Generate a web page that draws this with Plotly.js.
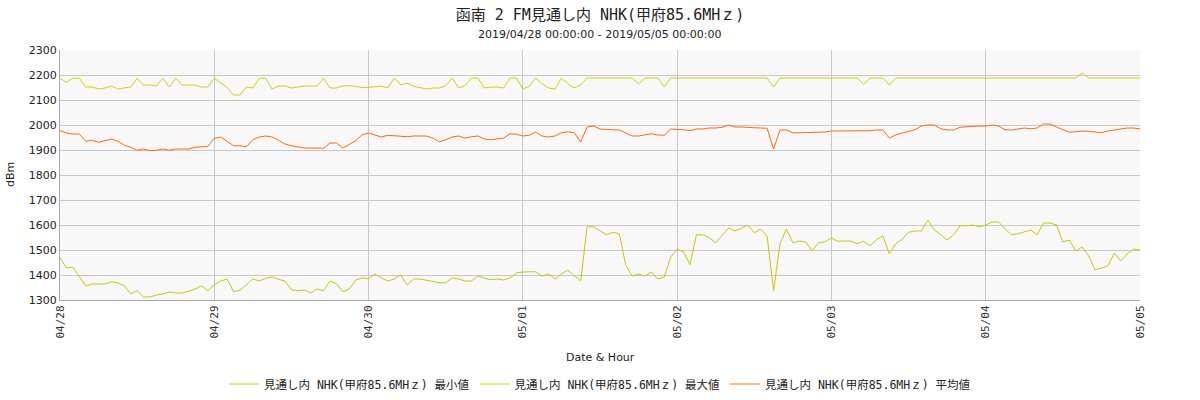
<!DOCTYPE html>
<html>
<head>
<meta charset="utf-8">
<script src="https://cdn.plot.ly/plotly-3.0.1.min.js"></script>
<style>html,body{margin:0;padding:0;background:#fff;}#chart{width:1200px;height:400px;}</style>
</head>
<body>
<div id="chart"></div>
<script>
const startTime = '2019-04-28T00:00:00';
const hourCount = 169;
const seriesNames = ['見通し内 NHK(甲府85.6MHｚ) 最小値', '見通し内 NHK(甲府85.6MHｚ) 最大値', '見通し内 NHK(甲府85.6MHｚ) 平均値'];
const dayTicks = ['2019-04-28','2019-04-29','2019-04-30','2019-05-01','2019-05-02','2019-05-03','2019-05-04','2019-05-05'];
const dayLabels = ['04/28','04/29','04/30','05/01','05/02','05/03','05/04','05/05'];

const minValues = [
1469,1428,1431,1392,1356,1364,1364,1364,1373,1368,1357,1324,1337,1312,1312,1320,1324,1332,1328,1328,1335,1344,1357,1337,
1361,1376,1384,1333,1339,1361,1384,1376,1387,1392,1385,1375,1341,1337,1340,1328,1344,1337,1376,1365,1333,1344,1380,1388,
1385,1404,1388,1376,1384,1400,1360,1384,1384,1380,1376,1369,1369,1388,1384,1376,1376,1396,1388,1381,1384,1380,1388,1408,
1412,1411,1413,1396,1404,1384,1404,1420,1396,1377,1593,1593,1576,1561,1571,1565,1441,1396,1404,1396,1412,1384,1392,1472,
1504,1492,1441,1561,1561,1549,1529,1559,1588,1576,1588,1600,1569,1584,1555,1337,1525,1584,1529,1536,1532,1497,1529,1533,
1548,1535,1536,1536,1525,1535,1517,1541,1557,1485,1525,1543,1571,1576,1576,1620,1581,1561,1540,1561,1597,1597,1600,1593,
1600,1612,1612,1585,1561,1565,1572,1580,1561,1608,1608,1600,1532,1540,1496,1512,1477,1420,1428,1436,1488,1456,1484,1504,
1500];

const maxValues = [
2187,2171,2187,2187,2152,2152,2144,2148,2156,2144,2148,2152,2187,2160,2160,2156,2187,2152,2187,2160,2160,2160,2152,2152,
2187,2170,2150,2120,2120,2152,2148,2187,2187,2144,2156,2156,2148,2152,2156,2156,2156,2187,2148,2148,2157,2157,2155,2149,
2152,2152,2155,2148,2188,2160,2168,2155,2148,2144,2148,2148,2157,2188,2148,2157,2188,2188,2148,2152,2152,2148,2188,2188,
2144,2155,2188,2165,2148,2144,2188,2165,2148,2161,2188,2188,2188,2188,2188,2188,2188,2188,2164,2188,2188,2188,2152,2188,
2188,2188,2188,2188,2188,2188,2188,2188,2188,2188,2188,2188,2188,2188,2188,2152,2188,2188,2188,2188,2188,2188,2188,2188,
2188,2188,2188,2188,2188,2162,2188,2188,2188,2160,2188,2188,2188,2188,2188,2188,2188,2188,2188,2188,2188,2188,2188,2188,
2188,2188,2188,2188,2188,2188,2188,2188,2188,2188,2188,2188,2188,2188,2188,2208,2188,2188,2188,2188,2188,2188,2188,2188,
2188];

const avgValues = [
1977,1968,1964,1964,1935,1939,1931,1937,1944,1935,1919,1911,1899,1904,1897,1899,1904,1899,1904,1904,1904,1911,1912,1914,
1947,1952,1935,1917,1917,1913,1941,1952,1956,1952,1939,1924,1917,1912,1908,1908,1908,1907,1928,1928,1908,1921,1937,1961,
1968,1960,1952,1959,1956,1956,1953,1956,1956,1956,1948,1933,1941,1952,1956,1948,1953,1956,1944,1941,1944,1947,1965,1963,
1956,1959,1972,1956,1952,1956,1969,1973,1969,1932,1992,1996,1984,1981,1981,1980,1968,1956,1956,1960,1965,1960,1959,1984,
1984,1981,1977,1984,1984,1988,1988,1991,2000,1992,1992,1992,1989,1988,1987,1904,1980,1980,1969,1969,1969,1969,1969,1972,
1976,1976,1976,1976,1976,1976,1977,1980,1980,1948,1960,1968,1975,1981,1996,2000,2000,1985,1980,1980,1991,1993,1996,1996,
1996,2000,1996,1981,1980,1985,1988,1985,1988,2004,2004,1992,1981,1971,1973,1976,1975,1972,1969,1976,1980,1984,1988,1988,
1984];

const seriesColors = ['#c8c800', '#d2d200', '#ff6a00'];

// hourly timestamps
const t0 = new Date(startTime + 'Z').getTime();
const times = [];
for (let i = 0; i < hourCount; i++) {
  const d = new Date(t0 + i * 3600000);
  times.push(d.toISOString().slice(0, 19).replace('T', ' '));
}

const allSeries = [minValues, maxValues, avgValues];
const traces = allSeries.map((vals, k) => ({
  type: 'scatter', mode: 'lines', x: times, y: vals, name: seriesNames[k],
  line: {color: seriesColors[k], width: 1}
}));

const cjk = '"DejaVu Sans Mono", "Noto Sans CJK JP", monospace';
const layout = {
  width: 1200, height: 400,
  margin: {l: 60, r: 60, t: 50, b: 100, autoexpand: false},
  paper_bgcolor: '#ffffff', plot_bgcolor: '#f8f8f8',
  showlegend: true,
  title: {text: '函南 2 FM見通し内 NHK(甲府85.6MHｚ)', font: {family: cjk, size: 15, color: '#222'},
          x: 0.5, xanchor: 'center', yref: 'container', y: 1 - 15/400, yanchor: 'middle'},
  xaxis: {
    type: 'date', range: [dayTicks[0], dayTicks[7]], automargin: false,
    tickvals: dayTicks, ticktext: dayLabels, tickangle: -90,
    tickfont: {family: '"DejaVu Sans Mono", monospace', size: 11, color: '#333'},
    showgrid: true, gridcolor: '#c8c8c8', gridwidth: 1,
    showline: true, linecolor: '#aaaaaa', linewidth: 1, zeroline: false, ticks: ''
  },
  yaxis: {
    range: [1300, 2300], dtick: 100, tick0: 1300, automargin: false,
    tickfont: {family: '"DejaVu Sans", sans-serif', size: 11, color: '#222'},
    showgrid: true, gridcolor: '#c8c8c8', gridwidth: 1,
    showline: true, linecolor: '#aaaaaa', linewidth: 1, zeroline: false, ticks: ''
  },
  legend: {orientation: 'h', x: 0.5, xanchor: 'center', yref: 'container', y: 16/400, yanchor: 'middle',
           font: {family: cjk, size: 11.5, color: '#222'}, itemwidth: 30, bgcolor: 'rgba(0,0,0,0)'},
  annotations: [
    {text: '2019/04/28 00:00:00 - 2019/05/05 00:00:00', xref: 'paper', yref: 'paper', x: 0.5, y: 1 + 15/250,
     xanchor: 'center', yanchor: 'middle', showarrow: false, font: {family: '"DejaVu Sans", sans-serif', size: 11, color: '#222'}},
    {text: 'Date & Hour', xref: 'paper', yref: 'paper', x: 0.5, y: (300-357)/250,
     xanchor: 'center', yanchor: 'middle', showarrow: false, font: {family: '"DejaVu Sans", sans-serif', size: 11, color: '#222'}},
    {text: 'dBm', xref: 'paper', yref: 'paper', x: (10-60)/1080, y: 0.5, textangle: -90,
     xanchor: 'center', yanchor: 'middle', showarrow: false, font: {family: '"DejaVu Sans", sans-serif', size: 11, color: '#222'}}
  ]
};

Plotly.newPlot('chart', traces, layout, {staticPlot: true, displayModeBar: false});
</script>
</body>
</html>
